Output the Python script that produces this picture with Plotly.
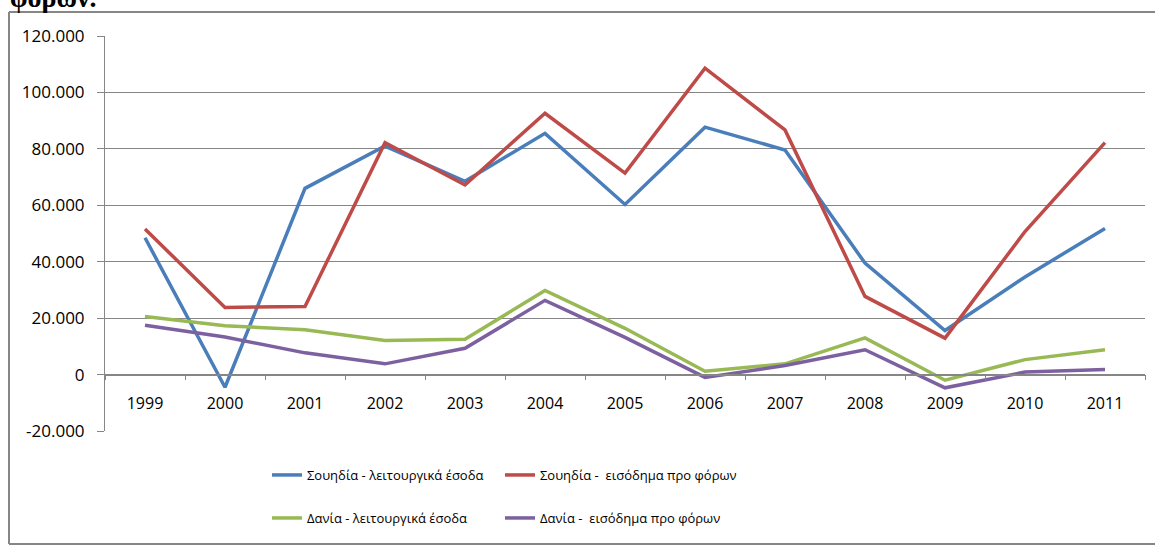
import plotly.graph_objects as go

years = ["1999", "2000", "2001", "2002", "2003", "2004", "2005", "2006", "2007", "2008", "2009", "2010", "2011"]

sweden_operating = [48500, -4500, 66000, 81000, 68500, 85500, 60300, 87700, 79600, 39500, 15600, 34600, 51800]
sweden_pretax = [51600, 23800, 24100, 82200, 67200, 92600, 71400, 108600, 86700, 27700, 12900, 50700, 82200]
denmark_operating = [20600, 17300, 15900, 12100, 12500, 29800, 16400, 1200, 3800, 13000, -2000, 5300, 8800]
denmark_pretax = [17500, 13300, 7700, 3800, 9300, 26300, 13200, -1000, 3200, 8800, -4700, 900, 1800]

y_tickvals = [-20000, 0, 20000, 40000, 60000, 80000, 100000, 120000]
y_ticktext = ["-20.000", "0", "20.000", "40.000", "60.000", "80.000", "100.000", "120.000"]

names = [
    "Σουηδία - λειτουργικά έσοδα",
    "Σουηδία - \u00a0εισόδημα προ φόρων",
    "Δανία - λειτουργικά έσοδα",
    "Δανία - \u00a0εισόδημα προ φόρων",
]
colors = ["#4A7EBB", "#BE4B48", "#98B954", "#7D60A0"]
series = [sweden_operating, sweden_pretax, denmark_operating, denmark_pretax]
legends = ["legend", "legend2", "legend3", "legend4"]

FONT = "Open Sans"
GRID = "#868686"

fig = go.Figure()
for name, col, vals, lg in zip(names, colors, series, legends):
    fig.add_trace(go.Scatter(
        x=years, y=vals, name=name, mode="lines",
        line=dict(color=col, width=3.5),
        legend=lg,
    ))

W, H = 1155, 546
L, R, T, B = 105, 10, 36, 115
plot_h = H - T - B
plot_w = W - L - R

def py(p):
    return (H - B - p) / plot_h

def px(p):
    return (p - L) / plot_w

legend_common = dict(
    orientation="h", xanchor="left", yanchor="middle",
    font=dict(family=FONT, size=13, color="#000000"),
    bgcolor="rgba(0,0,0,0)",
)

col1, col2 = 267, 500
row1, row2 = 475, 518

fig.update_layout(
    width=W, height=H, autosize=False,
    margin=dict(l=L, r=R, t=T, b=B, pad=0, autoexpand=False),
    paper_bgcolor="white", plot_bgcolor="white",
    font=dict(family=FONT, color="#000000"),
    showlegend=True,
    legend=dict(x=px(col1), y=py(row1), **legend_common),
    legend2=dict(x=px(col2), y=py(row1), **legend_common),
    legend3=dict(x=px(col1), y=py(row2), **legend_common),
    legend4=dict(x=px(col2), y=py(row2), **legend_common),
    xaxis=dict(
        type="category", range=[-0.5, 12.5],
        anchor="free", position=20000 / 140000,
        showgrid=False, zeroline=False,
        showline=True, linecolor=GRID, linewidth=1.5,
        ticks="outside", ticklen=5, tickcolor=GRID, tickwidth=1,
        tickson="boundaries",
        ticklabelstandoff=14,
        tickfont=dict(family=FONT, size=16, color="#000000"),
    ),
    yaxis=dict(
        range=[-20000, 120000],
        tickvals=y_tickvals, ticktext=y_ticktext,
        showgrid=True, gridcolor=GRID, gridwidth=1,
        zeroline=False,
        showline=True, linecolor=GRID, linewidth=1,
        ticks="outside", ticklen=7, tickcolor=GRID,
        ticklabelstandoff=9,
        tickfont=dict(family=FONT, size=17, color="#000000"),
    ),
    shapes=[
        dict(type="line", xref="paper", yref="paper",
             x0=px(9), x1=px(9), y0=py(544), y1=py(12),
             line=dict(color=GRID, width=2), layer="above"),
        dict(type="line", xref="paper", yref="paper",
             x0=px(9), x1=px(1155), y0=py(12), y1=py(12),
             line=dict(color=GRID, width=2), layer="above"),
        dict(type="line", xref="paper", yref="paper",
             x0=px(9), x1=px(1155), y0=py(544), y1=py(544),
             line=dict(color=GRID, width=2), layer="above"),
    ],
    annotations=[
        dict(text="<b>φόρων.</b>", xref="paper", yref="paper",
             x=px(8), xanchor="left", y=py(15), yanchor="bottom",
             showarrow=False,
             font=dict(family="Liberation Serif", size=28, color="#000000")),
    ],
)

fig.write_html(
    "out.html",
    config={"displayModeBar": False},
    post_script="document.body.style.margin='0';document.body.style.overflow='hidden';",
)
